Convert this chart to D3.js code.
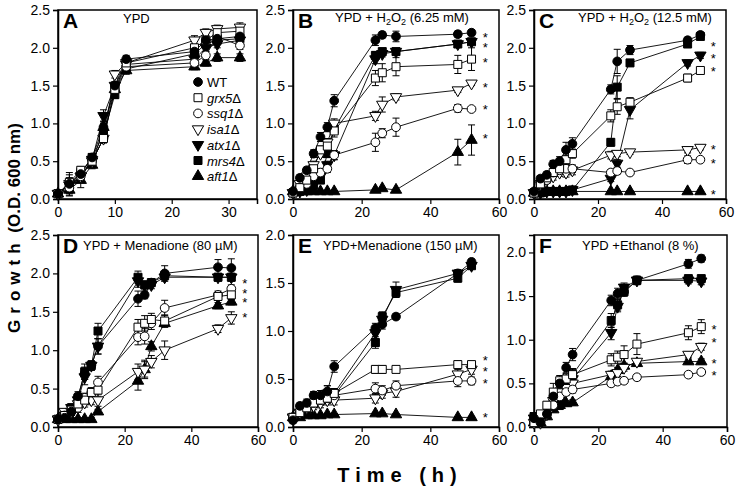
<!DOCTYPE html>
<html><head><meta charset="utf-8">
<script src="https://cdn.jsdelivr.net/npm/d3@7"></script>
<style>
body{margin:0;background:#fff}
text{font-family:"Liberation Sans",Arial,Helvetica,sans-serif;fill:#000}
</style>
</head><body>
<svg id="c" width="737" height="488"></svg>
<script>
// ---------- DATA ----------
const seriesNames = ["WT","grx5","ssq1","isa1","atx1","mrs4","aft1"];
const legendLabels = ["WT","grx5","ssq1","isa1","atx1","mrs4","aft1"];

// Panel A: YPD
const timesA = [0,2,4,6,8,10,12,24,26,28,32];
const valsA = [
 [0.07,0.20,0.33,0.55,0.95,1.50,1.85,1.95,2.10,2.12,2.15],
 [0.07,0.22,0.38,0.50,0.80,1.45,1.80,2.00,2.10,2.20,2.22],
 [0.07,0.15,0.30,0.50,0.80,1.45,1.75,1.80,1.90,2.15,2.03],
 [0.07,0.20,0.30,0.50,0.80,1.65,1.80,2.10,2.20,2.25,2.27],
 [0.07,0.18,0.30,0.52,1.10,1.50,1.78,1.85,2.00,2.05,2.10],
 [0.07,0.20,0.35,0.55,0.85,1.38,1.72,1.92,2.05,2.10,2.12],
 [0.07,0.12,0.25,0.45,0.95,1.45,1.70,1.75,1.80,1.87,1.87]];
const errA = [
 [0.02,0.15,0.06,0.05,0.08,0.05,0.05,0.06,0.06,0.05,0.06],
 [0.02,0.10,0.05,0.05,0.06,0.05,0.05,0.05,0.05,0.06,0.06],
 [0.02,0.08,0.05,0.05,0.05,0.05,0.05,0.06,0.05,0.05,0.05],
 [0.02,0.08,0.05,0.04,0.05,0.05,0.05,0.06,0.05,0.05,0.06],
 [0.02,0.08,0.05,0.05,0.08,0.05,0.05,0.05,0.05,0.05,0.05],
 [0.02,0.08,0.05,0.05,0.05,0.05,0.05,0.05,0.05,0.05,0.05],
 [0.02,0.08,0.10,0.05,0.05,0.05,0.05,0.04,0.04,0.05,0.05]];

// Panel B: YPD + H2O2 (6.25 mM)
const timesB = [0,2,4,6,8,10,12,24,26,30,48,52];
const valsB = [
 [0.10,0.28,0.38,0.60,0.82,0.95,1.30,2.10,2.17,2.15,2.18,2.20],
 [0.08,0.15,0.25,0.40,0.65,0.70,0.90,1.60,1.67,1.75,1.78,1.85],
 [0.08,0.15,0.20,0.30,0.35,0.40,0.58,0.75,0.87,0.95,1.20,1.19],
 [0.08,0.20,0.30,0.45,0.60,0.75,1.00,1.10,1.25,1.35,1.44,1.53],
 [0.08,0.10,0.12,0.20,0.30,0.45,0.58,1.85,1.92,1.95,2.05,2.08],
 [0.08,0.10,0.12,0.18,0.25,0.60,0.92,1.90,1.95,1.95,2.05,2.08],
 [0.10,0.10,0.10,0.10,0.10,0.10,0.10,0.12,0.14,0.12,0.62,0.78]];
const errB = [
 [0.02,0.04,0.04,0.05,0.06,0.06,0.08,0.07,0.04,0.07,0.04,0.04],
 [0.02,0.04,0.04,0.05,0.05,0.06,0.08,0.10,0.12,0.12,0.12,0.15],
 [0.02,0.04,0.04,0.05,0.05,0.05,0.06,0.12,0.06,0.12,0.05,0.03],
 [0.02,0.04,0.04,0.05,0.05,0.05,0.06,0.06,0.10,0.04,0.03,0.03],
 [0.02,0.02,0.03,0.04,0.04,0.05,0.06,0.06,0.04,0.04,0.03,0.03],
 [0.02,0.02,0.03,0.04,0.04,0.05,0.06,0.05,0.04,0.04,0.03,0.03],
 [0.01,0.01,0.01,0.01,0.01,0.01,0.01,0.01,0.01,0.01,0.17,0.20]];
const starsB = [2.15,2.03,1.83,1.50,1.20,0.82];

// Panel C: YPD + H2O2 (12.5 mM)
const timesC = [0,2,4,6,8,10,12,24,26,30,48,52];
const valsC = [
 [0.10,0.27,0.32,0.46,0.50,0.65,0.73,1.45,1.82,1.97,2.10,2.17],
 [0.08,0.20,0.28,0.35,0.40,0.52,0.60,1.10,1.22,1.28,1.60,1.70],
 [0.08,0.20,0.25,0.35,0.38,0.40,0.40,0.35,0.37,0.35,0.52,0.52],
 [0.08,0.20,0.25,0.30,0.35,0.35,0.38,0.58,0.60,0.62,0.65,0.68],
 [0.08,0.08,0.10,0.10,0.10,0.10,0.12,0.27,0.47,1.18,1.80,1.90],
 [0.08,0.08,0.10,0.10,0.10,0.10,0.12,0.75,1.48,1.80,2.05,2.15],
 [0.08,0.08,0.10,0.10,0.10,0.10,0.10,0.10,0.10,0.10,0.10,0.10]];
const errC = [
 [0.02,0.04,0.04,0.05,0.06,0.10,0.08,0.06,0.16,0.06,0.04,0.04],
 [0.02,0.04,0.04,0.05,0.05,0.06,0.06,0.08,0.10,0.06,0.05,0.04],
 [0.02,0.04,0.04,0.05,0.05,0.06,0.05,0.04,0.04,0.03,0.05,0.03],
 [0.02,0.04,0.04,0.05,0.05,0.06,0.06,0.05,0.04,0.03,0.04,0.03],
 [0.02,0.02,0.02,0.02,0.02,0.02,0.02,0.04,0.05,0.12,0.04,0.04],
 [0.02,0.02,0.02,0.02,0.02,0.02,0.02,0.05,0.15,0.04,0.04,0.04],
 [0.01,0.01,0.01,0.01,0.01,0.01,0.01,0.01,0.01,0.01,0.01,0.01]];
const starsC = [2.04,1.88,1.71,0.67,0.49,0.08];

// Panel D: YPD + Menadione (80 µM)
const timesD = [0,2,4,6,8,10,12,24,26,28,32,48,52];
const valsD = [
 [0.10,0.12,0.20,0.40,0.70,0.80,1.05,1.67,1.72,1.88,2.00,2.08,2.07],
 [0.10,0.15,0.22,0.30,0.35,0.45,0.48,1.30,1.35,1.40,1.38,1.70,1.72],
 [0.10,0.15,0.20,0.25,0.38,0.45,0.58,1.17,1.18,1.35,1.55,1.72,1.80],
 [0.10,0.20,0.20,0.30,0.32,0.35,0.35,0.72,0.75,0.85,1.00,1.28,1.42],
 [0.10,0.15,0.25,0.35,0.65,0.80,1.05,1.90,1.85,1.85,1.95,1.95,1.95],
 [0.10,0.13,0.25,0.38,0.72,0.80,1.25,1.95,1.85,1.88,1.97,1.95,1.95],
 [0.10,0.10,0.10,0.10,0.10,0.10,0.20,0.60,0.75,1.05,1.35,1.58,1.63]];
const errD = [
 [0.03,0.04,0.05,0.06,0.08,0.06,0.10,0.10,0.05,0.05,0.10,0.10,0.12],
 [0.03,0.04,0.05,0.06,0.06,0.06,0.08,0.10,0.10,0.08,0.08,0.05,0.06],
 [0.03,0.04,0.05,0.06,0.06,0.06,0.08,0.10,0.10,0.08,0.10,0.05,0.05],
 [0.03,0.04,0.05,0.06,0.06,0.06,0.08,0.10,0.12,0.08,0.12,0.05,0.08],
 [0.03,0.04,0.05,0.06,0.10,0.06,0.10,0.08,0.05,0.05,0.05,0.05,0.05],
 [0.03,0.04,0.05,0.06,0.10,0.06,0.10,0.08,0.05,0.05,0.05,0.05,0.05],
 [0.02,0.02,0.02,0.02,0.02,0.02,0.03,0.12,0.10,0.06,0.05,0.04,0.04]];
const starsD = [1.89,1.76,1.64,1.45];

// Panel E: YPD+Menadione (150 µM)
const timesE = [0,2,4,6,8,10,12,24,26,30,48,52];
const valsE = [
 [0.07,0.22,0.25,0.33,0.33,0.37,0.63,1.03,1.07,1.15,1.60,1.72],
 [0.10,0.15,0.20,0.25,0.28,0.30,0.35,0.60,0.60,0.60,0.65,0.65],
 [0.10,0.15,0.20,0.25,0.28,0.30,0.33,0.40,0.38,0.43,0.48,0.48],
 [0.10,0.15,0.20,0.22,0.25,0.28,0.28,0.30,0.35,0.37,0.55,0.60],
 [0.10,0.15,0.20,0.25,0.30,0.35,0.35,0.98,1.12,1.43,1.60,1.68],
 [0.10,0.12,0.18,0.25,0.28,0.30,0.33,0.88,1.15,1.40,1.55,1.68],
 [0.10,0.10,0.12,0.12,0.12,0.13,0.13,0.14,0.14,0.13,0.10,0.10]];
const errE = [
 [0.03,0.03,0.04,0.04,0.05,0.06,0.06,0.05,0.05,0.03,0.03,0.03],
 [0.03,0.03,0.04,0.04,0.05,0.05,0.05,0.04,0.04,0.03,0.04,0.03],
 [0.03,0.03,0.04,0.04,0.05,0.05,0.05,0.06,0.05,0.05,0.06,0.04],
 [0.03,0.03,0.04,0.04,0.05,0.05,0.05,0.05,0.05,0.06,0.05,0.05],
 [0.03,0.03,0.04,0.04,0.05,0.08,0.05,0.06,0.07,0.08,0.04,0.03],
 [0.03,0.03,0.04,0.04,0.05,0.05,0.05,0.06,0.05,0.05,0.04,0.03],
 [0.01,0.01,0.01,0.01,0.01,0.01,0.01,0.01,0.01,0.01,0.01,0.01]];
const starsE = [0.71,0.59,0.47,0.115];

// Panel F: YPD +Ethanol (8 %)
const timesF = [0,2,4,6,8,10,12,24,26,28,32,48,52];
const valsF = [
 [0.10,0.05,0.15,0.35,0.50,0.68,0.83,1.45,1.53,1.55,1.68,1.87,1.93],
 [0.05,0.15,0.25,0.40,0.53,0.55,0.60,0.77,0.80,0.83,0.95,1.08,1.15],
 [0.05,0.05,0.15,0.25,0.35,0.40,0.43,0.50,0.52,0.53,0.57,0.60,0.63],
 [0.05,0.05,0.15,0.30,0.40,0.45,0.50,0.60,0.62,0.68,0.75,0.83,0.92],
 [0.10,0.08,0.15,0.25,0.30,0.45,0.55,1.08,1.38,1.60,1.68,1.68,1.67],
 [0.12,0.08,0.15,0.28,0.25,0.50,0.60,1.22,1.40,1.55,1.68,1.70,1.70],
 [0.05,0.05,0.12,0.20,0.25,0.27,0.28,0.58,0.65,0.70,0.73,0.75,0.75]];
const errF = [
 [0.03,0.03,0.04,0.05,0.05,0.06,0.07,0.06,0.06,0.05,0.05,0.05,0.04],
 [0.03,0.03,0.04,0.10,0.06,0.06,0.06,0.07,0.07,0.10,0.12,0.08,0.08],
 [0.02,0.02,0.03,0.04,0.04,0.04,0.04,0.03,0.03,0.03,0.03,0.03,0.03],
 [0.02,0.02,0.03,0.04,0.04,0.04,0.04,0.04,0.04,0.04,0.03,0.03,0.04],
 [0.03,0.03,0.04,0.05,0.05,0.06,0.07,0.08,0.06,0.05,0.04,0.04,0.04],
 [0.03,0.03,0.04,0.05,0.05,0.06,0.07,0.08,0.06,0.05,0.04,0.04,0.04],
 [0.02,0.02,0.03,0.03,0.03,0.03,0.03,0.03,0.03,0.03,0.03,0.03,0.03]];
const starsF = [1.14,0.98,0.74,0.61];

// ---------- DRAW ----------
const svg = d3.select("#c");
const shapeOf = {WT:["circle",1],grx5:["square",0],ssq1:["circle",0],isa1:["tdown",0],atx1:["tdown",1],mrs4:["square",1],aft1:["tup",1]};
function symPath(t){
  if(t==="circle") return d3.symbol(d3.symbolCircle,60)();
  if(t==="square") return d3.symbol(d3.symbolSquare,64)();
  return d3.symbol(d3.symbolTriangle,56)();
}
function marker(g,name,x,y){
  const [t,f]=shapeOf[name];
  g.append("path").attr("d",symPath(t))
   .attr("transform",`translate(${x},${y})`+(t==="tdown"?" rotate(180)":""))
   .attr("fill",f?"#000":"#fff").attr("stroke","#000").attr("stroke-width",1);
}

const panels = [
 {L:"A",t:timesA,v:valsA,e:errA,s:[],xd:[0,35],yd:[0,2.5],px:[58,257],py:[199,10],xt:[0,10,20,30],xm:d3.range(0,35,2),yt:[0,0.5,1,1.5,2,2.5],
  title:[["YPD",0]],tx:123,ty:23,ly:28,legend:true},
 {L:"B",t:timesB,v:valsB,e:errB,s:starsB,xd:[0,60],yd:[0,2.5],px:[293,499],py:[199,10],xt:[0,20,40,60],xm:d3.range(0,61,4),yt:[0,0.5,1,1.5,2,2.5],
  title:[["YPD + H",0],["2",1],["O",0],["2",1],[" (6.25 mM)",0]],tx:335,ty:22,ly:28},
 {L:"C",t:timesC,v:valsC,e:errC,s:starsC,xd:[0,60],yd:[0,2.5],px:[534,726],py:[199,10],xt:[0,20,40,60],xm:d3.range(0,61,4),yt:[0,0.5,1,1.5,2,2.5],
  title:[["YPD + H",0],["2",1],["O",0],["2",1],[" (12.5 mM)",0]],tx:578,ty:22,ly:28},
 {L:"D",t:timesD,v:valsD,e:errD,s:starsD,xd:[0,60],yd:[0,2.5],px:[58,258],py:[427,235],xt:[0,20,40,60],xm:d3.range(0,61,4),yt:[0,0.5,1,1.5,2,2.5],
  title:[["YPD + Menadione (80 \u00b5M)",0]],tx:83,ty:250,ly:253},
 {L:"E",t:timesE,v:valsE,e:errE,s:starsE,xd:[0,60],yd:[0,2.0],px:[293,499],py:[427,235],xt:[0,20,40,60],xm:d3.range(0,61,4),yt:[0,0.5,1,1.5,2],
  title:[["YPD+Menadione (150 \u00b5M)",0]],tx:323,ty:250,ly:253},
 {L:"F",t:timesF,v:valsF,e:errF,s:starsF,xd:[0,60],yd:[0,2.2],px:[534,727],py:[427,235],xt:[0,20,40,60],xm:d3.range(0,61,4),yt:[0,0.5,1,1.5,2],
  title:[["YPD +Ethanol (8 %)",0]],tx:582,ty:250,ly:253}
];

panels.forEach(p=>{
  const x=d3.scaleLinear().domain(p.xd).range(p.px);
  const y=d3.scaleLinear().domain(p.yd).range(p.py);
  const g=svg.append("g");
  g.append("rect").attr("x",p.px[0]).attr("y",p.py[1]).attr("width",p.px[1]-p.px[0]).attr("height",p.py[0]-p.py[1])
   .attr("fill","none").attr("stroke","#000").attr("stroke-width",1.5);
  const xa=g.append("g").attr("transform",`translate(0,${p.py[0]})`);
  xa.call(d3.axisBottom(x).tickValues(p.xm).tickSize(3).tickFormat(""));
  xa.call(d3.axisBottom(x).tickValues(p.xt).tickSize(5).tickPadding(3).tickFormat(d3.format("d")));
  const yminor=d3.range(0,p.yd[1]+1e-9,0.1).map(v=>+v.toFixed(2));
  const ya=g.append("g").attr("transform",`translate(${p.px[0]},0)`);
  ya.call(d3.axisLeft(y).tickValues(yminor).tickSize(3).tickFormat(""));
  ya.call(d3.axisLeft(y).tickValues(p.yt).tickSize(5).tickPadding(3).tickFormat(d3.format(".1f")));
  g.selectAll(".domain").attr("stroke-width",1.5);
  g.selectAll(".tick line").attr("stroke-width",1.2);
  g.selectAll(".tick text").style("font-size","14px").style("font-family","'Liberation Sans',Arial,sans-serif");

  const line=d3.line().x(d=>x(d[0])).y(d=>y(d[1]));
  p.v.forEach((vals)=>{
    g.append("path").datum(p.t.map((t,j)=>[t,vals[j]])).attr("d",line)
     .attr("fill","none").attr("stroke","#000").attr("stroke-width",0.9);
  });
  p.v.forEach((vals,i)=>{
    p.t.forEach((t,j)=>{
      const e=p.e[i][j]; const cx=x(t);
      const y1=y(vals[j]+e), y2=y(Math.max(0,vals[j]-e));
      g.append("line").attr("x1",cx).attr("x2",cx).attr("y1",y1).attr("y2",y2).attr("stroke","#000").attr("stroke-width",1);
      [y1,y2].forEach(yy=>g.append("line").attr("x1",cx-3.5).attr("x2",cx+3.5).attr("y1",yy).attr("y2",yy).attr("stroke","#000").attr("stroke-width",1));
    });
  });
  for(let i=p.v.length-1;i>=0;i--){
    p.t.forEach((t,j)=>marker(g,seriesNames[i],x(t),y(p.v[i][j])));
  }
  p.s.forEach(v=>{
    g.append("text").attr("x",x(56)).attr("y",y(v)+6).attr("text-anchor","middle")
     .style("font-size","13px").text("*");
  });
  g.append("text").attr("x",p.px[0]+5).attr("y",p.ly).style("font-size","21px").style("font-weight","bold").text(p.L);
  const tt=g.append("text").attr("x",p.tx).attr("y",p.ty).style("font-size","13px");
  let prevSub=false;
  p.title.forEach(([s,sub])=>{
    const ts=tt.append("tspan").text(s);
    if(sub){ ts.attr("dy",prevSub?0:3).style("font-size","9px"); }
    else if(prevSub){ ts.attr("dy",-3); }
    prevSub=!!sub;
  });
  if(p.legend){
    seriesNames.forEach((n,i)=>{
      const ly=82+i*15.7;
      marker(g,n,198,ly);
      const t=g.append("text").attr("x",207).attr("y",ly+5).style("font-size","13px");
      if(n==="WT") t.text("WT");
      else { t.append("tspan").style("font-style","italic").text(legendLabels[i]); t.append("tspan").text("\u0394"); }
    });
  }
});

const gy=svg.append("text").attr("transform","translate(20,228) rotate(-90)").attr("text-anchor","middle")
  .style("font-size","17px").style("font-weight","bold");
gy.append("tspan").style("letter-spacing","6px").text("Growth");
gy.append("tspan").text(" (O.D. 600 nm)");
svg.append("text").attr("x",400).attr("y",482).attr("text-anchor","middle")
  .style("font-size","20px").style("font-weight","bold").style("letter-spacing","6px").text("Time (h)");
</script>
</body></html>
